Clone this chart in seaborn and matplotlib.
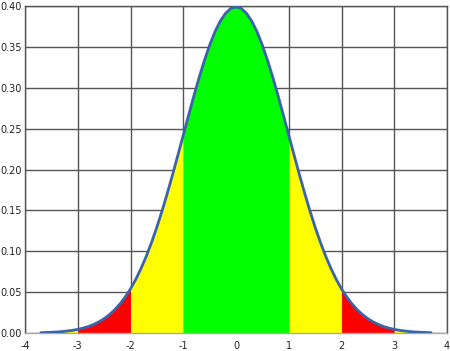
import numpy as np
import pandas as pd
import matplotlib
matplotlib.use("Agg")
import matplotlib.pyplot as plt
import seaborn as sns

# Curve values (standard normal density shape)
x_vals = [-3.7, -3.6, -3.5, -3.4, -3.3, -3.2, -3.1, -3.0, -2.9, -2.8, -2.7, -2.6, -2.5,
          -2.4, -2.3, -2.2, -2.1, -2.0, -1.9, -1.8, -1.7, -1.6, -1.5, -1.4, -1.3, -1.2,
          -1.1, -1.0, -0.9, -0.8, -0.7, -0.6, -0.5, -0.4, -0.3, -0.2, -0.1, 0.0,
          0.1, 0.2, 0.3, 0.4, 0.5, 0.6, 0.7, 0.8, 0.9, 1.0, 1.1, 1.2, 1.3, 1.4, 1.5,
          1.6, 1.7, 1.8, 1.9, 2.0, 2.1, 2.2, 2.3, 2.4, 2.5, 2.6, 2.7, 2.8, 2.9, 3.0,
          3.1, 3.2, 3.3, 3.4, 3.5, 3.6, 3.7]
y_vals = [0.0004, 0.0006, 0.0009, 0.0012, 0.0017, 0.0024, 0.0033, 0.0044, 0.0060, 0.0079,
          0.0104, 0.0136, 0.0175, 0.0224, 0.0283, 0.0355, 0.0440, 0.0540, 0.0656, 0.0790,
          0.0940, 0.1109, 0.1295, 0.1497, 0.1714, 0.1942, 0.2179, 0.2420, 0.2661, 0.2897,
          0.3123, 0.3332, 0.3521, 0.3683, 0.3814, 0.3910, 0.3970, 0.3989,
          0.3970, 0.3910, 0.3814, 0.3683, 0.3521, 0.3332, 0.3123, 0.2897, 0.2661, 0.2420,
          0.2179, 0.1942, 0.1714, 0.1497, 0.1295, 0.1109, 0.0940, 0.0790, 0.0656, 0.0540,
          0.0440, 0.0355, 0.0283, 0.0224, 0.0175, 0.0136, 0.0104, 0.0079, 0.0060, 0.0044,
          0.0033, 0.0024, 0.0017, 0.0012, 0.0009, 0.0006, 0.0004]

# Shaded bands: (low, high, colour)
band_edges = [(-3.7, -3.0), (-3.0, -2.0), (-2.0, -1.0), (-1.0, 1.0), (1.0, 2.0), (2.0, 3.0), (3.0, 3.7)]
band_colors = ["#ffff00", "#ff0000", "#ffff00", "#00ff00", "#ffff00", "#ff0000", "#ffff00"]

x_ticks = [-4, -3, -2, -1, 0, 1, 2, 3, 4]
y_ticks = [0.00, 0.05, 0.10, 0.15, 0.20, 0.25, 0.30, 0.35, 0.40]

df = pd.DataFrame({"x": x_vals, "y": y_vals})

sns.set_style("white")
plt.rcParams["font.family"] = ["DejaVu Sans"]

fig = plt.figure(figsize=(4.5, 3.51), dpi=100)
ax = fig.add_axes([25 / 450, 18 / 351, 422 / 450, 327 / 351])

xa = np.array(x_vals)
ya = np.array(y_vals)
for (lo, hi), col in zip(band_edges, band_colors):
    m = (xa >= lo - 1e-9) & (xa <= hi + 1e-9)
    ax.fill_between(xa[m], 0, ya[m], color=col, linewidth=0, zorder=2)

sns.lineplot(data=df, x="x", y="y", ax=ax, color="#3b62ad", linewidth=2, zorder=4)

ax.set_xlim(-4, 4)
ax.set_ylim(0, 0.40)
ax.set_xticks(x_ticks)
ax.set_yticks(y_ticks)
ax.set_xticklabels([str(t) for t in x_ticks])
ax.set_yticklabels([f"{t:.2f}" for t in y_ticks])
ax.grid(True, color="#555555", linewidth=1)
ax.set_axisbelow(True)
ax.set_xlabel("")
ax.set_ylabel("")
ax.tick_params(length=0, labelsize=7, colors="#222222")
ax.tick_params(axis="x", pad=6)
ax.tick_params(axis="y", pad=2)
for s in ax.spines.values():
    s.set_visible(True)
    s.set_color("#555555")
    s.set_linewidth(1)
ax.spines["bottom"].set_color("#aaaaaa")

fig.savefig("out.png", dpi=100, facecolor="white")
